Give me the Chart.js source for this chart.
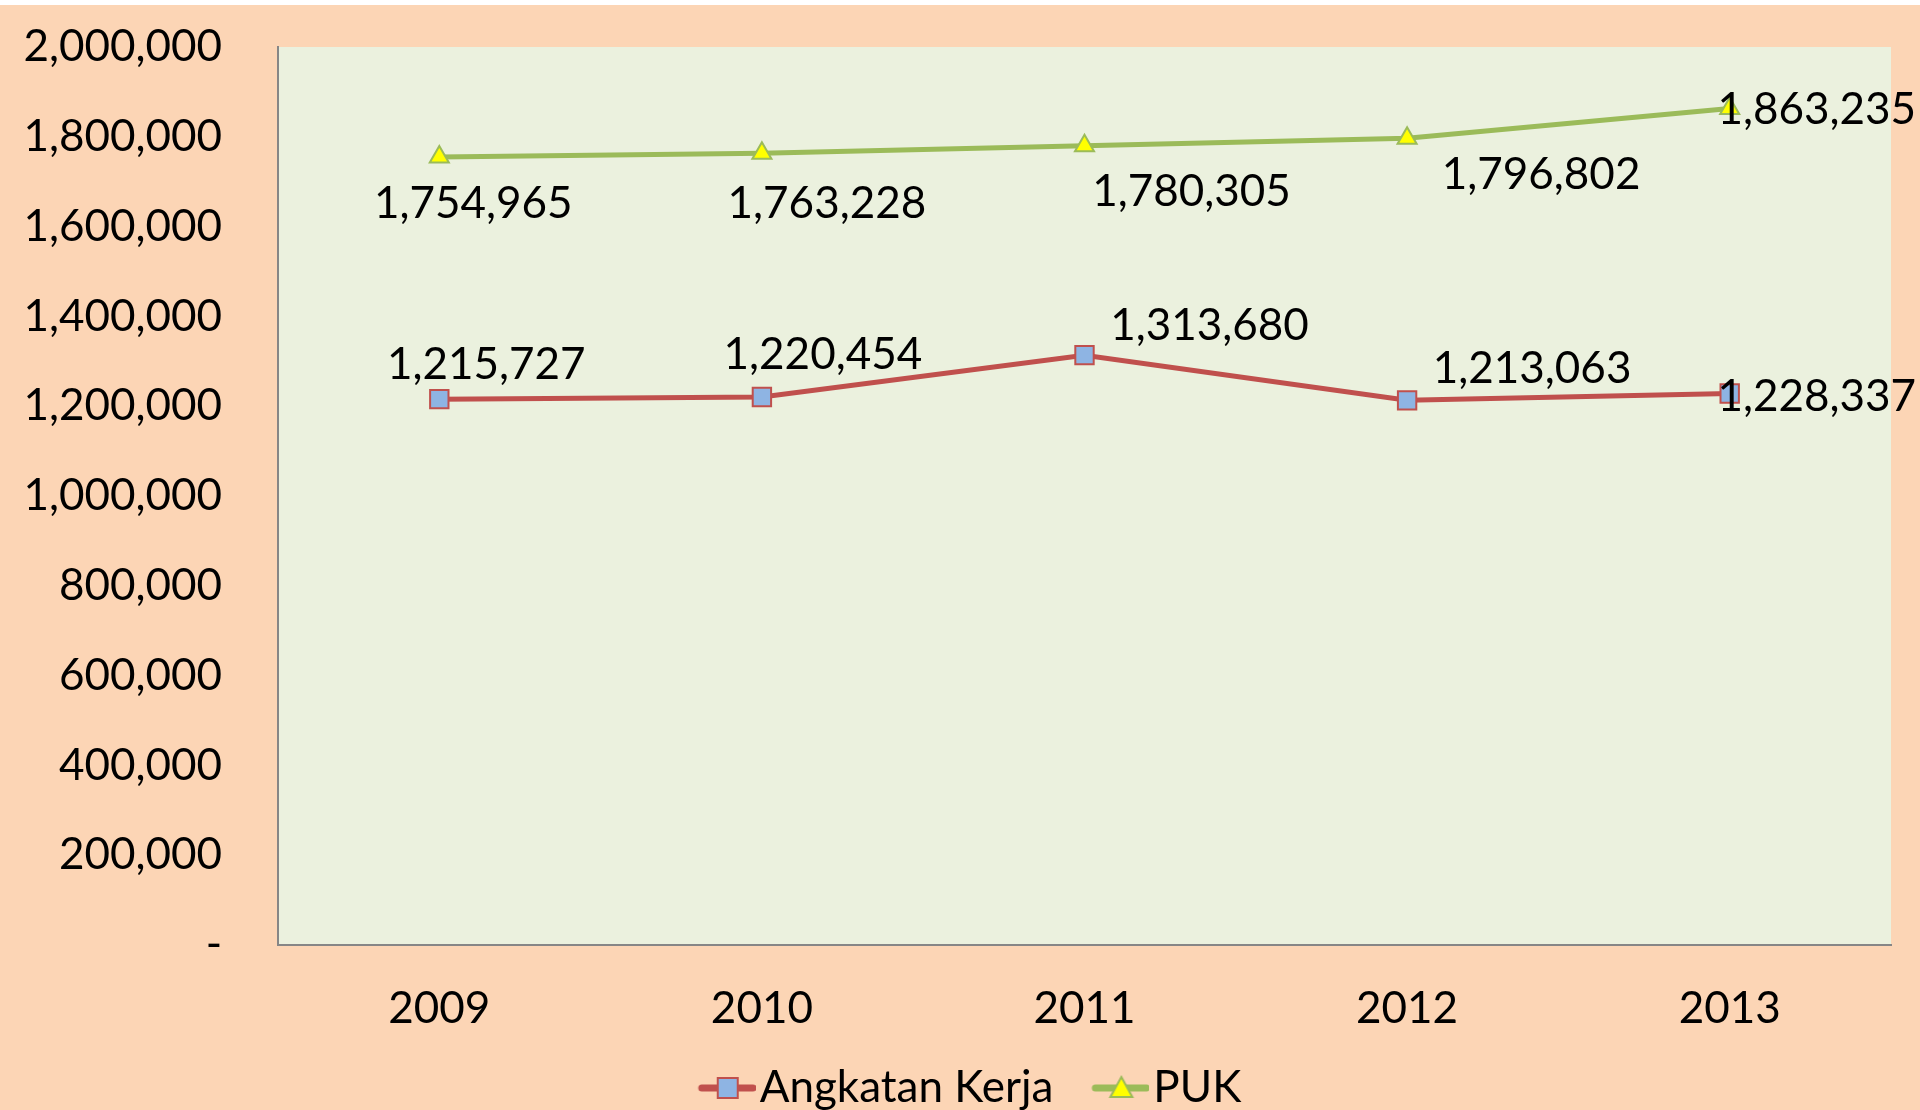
<!DOCTYPE html>
<html>
<head>
<meta charset="utf-8">
<script src="https://cdn.jsdelivr.net/npm/chart.js@4.4.1/dist/chart.umd.min.js"></script>
<style>
  html, body { margin: 0; padding: 0; background: #ffffff; overflow: hidden; }
  #wrap { position: absolute; left: 0; top: 5px; width: 1920px; height: 1115px; background: #FCD5B5; }
</style>
</head>
<body>
<div id="wrap"><canvas id="chart"></canvas></div>
<script>
'use strict'

//datos de la grafica
const years = [ '2009', '2010', '2011', '2012', '2013' ];
const angkatanKerja = [ 1215727, 1220454, 1313680, 1213063, 1228337 ];
const puk = [ 1754965, 1763228, 1780305, 1796802, 1863235 ];
const yMin = 0;
const yMax = 2000000;
const yStep = 200000;

const FONT = 'Lato, "Noto Sans", sans-serif';
const FONT_SIZE = 44;

//desplazamiento de las etiquetas respecto a cada punto
const labelOffsets =
[
  [ [47, -34], [61, -42], [125, -29], [125, -32], [87, 3] ],
  [ [34, 47], [65, 51], [107, 46], [134, 37], [87, 1] ]
];

function fmt( v )
{
  return v === 0 ? '-' : v.toLocaleString( 'en-US' );
}

//icono de leyenda: linea con marcador (ancho extra a la izquierda para separar)
function legendIcon( lineColor, fill, marker )
{
  const c = document.createElement( 'canvas' );
  c.width = 104;
  c.height = 28;
  const ctx = c.getContext( '2d' );
  ctx.strokeStyle = lineColor;
  ctx.lineWidth = 7;
  ctx.lineCap = 'round';
  ctx.beginPath();
  ctx.moveTo( 50, 14 );
  ctx.lineTo( 101, 14 );
  ctx.stroke();
  ctx.fillStyle = fill;
  ctx.lineWidth = 2;
  ctx.beginPath();
  if ( marker === 'rect' )
  {
    ctx.rect( 66, 4, 20, 20 );
  }
  else
  {
    ctx.moveTo( 76, 3 );
    ctx.lineTo( 87, 23 );
    ctx.lineTo( 65, 23 );
    ctx.closePath();
  }
  ctx.fill();
  ctx.stroke();
  return c;
}

const plotBg =
{
  id: 'plotBg',
  beforeDraw( chart )
  {
    const { ctx, chartArea: a } = chart;
    ctx.save();
    ctx.fillStyle = '#EBF1DE';
    ctx.fillRect( a.left, a.top, a.right - a.left, a.bottom - a.top );
    ctx.restore();
  }
};

const pointLabels =
{
  id: 'pointLabels',
  afterDatasetsDraw( chart )
  {
    const ctx = chart.ctx;
    ctx.save();
    ctx.font = FONT_SIZE + 'px ' + FONT;
    ctx.fillStyle = '#000000';
    ctx.textAlign = 'center';
    ctx.textBaseline = 'middle';
    chart.data.datasets.forEach( ( ds, di ) =>
    {
      chart.getDatasetMeta( di ).data.forEach( ( pt, i ) =>
      {
        const off = labelOffsets[ di ][ i ];
        ctx.fillText( fmt( ds.data[ i ] ), pt.x + off[ 0 ], pt.y + off[ 1 ] );
      });
    });
    ctx.restore();
  }
};

Chart.defaults.font.family = FONT;
Chart.defaults.font.size = FONT_SIZE;
Chart.defaults.color = '#000000';

const ctx = document.getElementById( 'chart' ).getContext( '2d' );
new Chart( ctx,
{
  type: 'line',
  data:
  {
    labels: years,
    datasets:
    [
      {
        label: 'Angkatan Kerja',
        data: angkatanKerja,
        borderColor: '#C0504D',
        borderWidth: 5,
        pointStyle: 'rect',
        pointRadius: 13,
        pointBackgroundColor: '#8EB4E3',
        pointBorderColor: '#C0504D',
        pointBorderWidth: 2,
        tension: 0
      },
      {
        label: 'PUK',
        data: puk,
        borderColor: '#9BBB59',
        borderWidth: 5,
        pointStyle: 'triangle',
        pointRadius: 11,
        pointBackgroundColor: '#FFFF00',
        pointBorderColor: '#9BBB59',
        pointBorderWidth: 2,
        tension: 0
      }
    ]
  },
  options:
  {
    responsive: true,
    maintainAspectRatio: false,
    animation: false,
    layout: { padding: { top: 42, right: 29, left: 20, bottom: 0 } },
    plugins:
    {
      tooltip: { enabled: false },
      legend:
      {
        position: 'bottom',
        labels:
        {
          usePointStyle: true,
          pointStyleWidth: 68,
          padding: 10,
          color: '#000000',
          font: { size: FONT_SIZE, family: FONT },
          generateLabels: () =>
          [
            { text: 'Angkatan Kerja', pointStyle: legendIcon( '#C0504D', '#8EB4E3', 'rect' ), datasetIndex: 0, lineWidth: 0 },
            { text: 'PUK', pointStyle: legendIcon( '#9BBB59', '#FFFF00', 'triangle' ), datasetIndex: 1, lineWidth: 0 }
          ]
        }
      }
    },
    scales:
    {
      x:
      {
        offset: true,
        grid: { display: false, drawTicks: false },
        border: { color: '#868686', width: 2 },
        ticks: { padding: 37, font: { size: FONT_SIZE } },
        afterFit: scale => { scale.height = 111; }
      },
      y:
      {
        min: yMin,
        max: yMax,
        grid:
        {
          display: true,
          color: 'rgba(0,0,0,0)',
          drawOnChartArea: false,
          drawTicks: true,
          tickLength: 56
        },
        border: { color: '#868686', width: 2 },
        ticks:
        {
          stepSize: yStep,
          padding: 0,
          font: { size: FONT_SIZE },
          callback: v => fmt( v )
        },
        afterFit: scale => { scale.width = 258; }
      }
    }
  },
  plugins: [ plotBg, pointLabels ]
});
</script>
</body>
</html>
